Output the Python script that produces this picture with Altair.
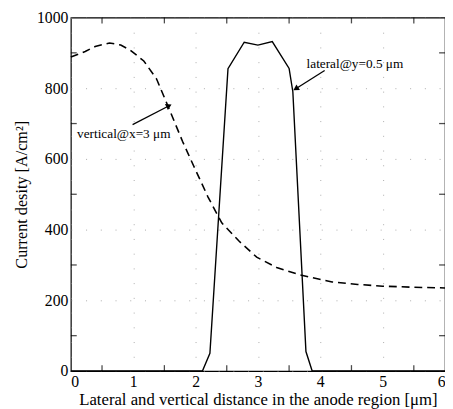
import altair as alt
import pandas as pd

# Dashed curve: vertical@x=3 um
vert_x = [0, 0.23, 0.39, 0.62, 0.8, 0.95, 1.17, 1.375, 1.53, 1.79, 1.97, 2.2, 2.42, 2.7, 2.98, 3.3, 3.67, 4.19, 4.6, 5.0, 5.5, 6.0]
vert_y = [888, 904, 918, 928, 922, 908, 877, 826, 761, 650, 580, 492, 419, 367, 322, 293, 272, 252, 245, 240, 237, 235]

# Solid curve: lateral@y=0.5 um
lat_x = [0, 2.11, 2.23, 2.52, 2.78, 3.0, 3.23, 3.5, 3.56, 3.77, 3.87, 6.0]
lat_y = [0, 0, 50, 855, 930, 922, 932, 856, 790, 55, 0, 0]

x_ticks = [0, 1, 2, 3, 4, 5, 6]
y_ticks = [0, 200, 400, 600, 800, 1000]
x_minor = [0.5, 1.5, 2.5, 3.5, 4.5, 5.5]
y_minor = [100, 300, 500, 700, 900]

labels = ["vertical@x=3 \u03bcm", "lateral@y=0.5 \u03bcm"]
label_x = [0.1, 3.78]
label_y = [669, 867]
arrow_x0 = [0.99, 4.07]
arrow_y0 = [697, 850]
arrow_x1 = [1.56, 3.62]
arrow_y1 = [749, 800]
arrow_angle = [64, 238]

FONT = "Liberation Serif"

xs = alt.Scale(domain=[0, 6], nice=False, zero=False)
ys = alt.Scale(domain=[0, 1000], nice=False)

common = dict(ticks=False, domain=False, labelFont=FONT, titleFont=FONT,
              labelFontSize=16, labelColor="black", titleColor="black",
              titleFontWeight="normal", grid=True, gridColor="#888888", gridDash=[1, 14],
              gridWidth=1, gridOpacity=0.7, format="d")
x_axis = alt.Axis(values=x_ticks, title="Lateral and vertical distance in the anode region [\u03bcm]",
                  labelPadding=3, titlePadding=2, titleFontSize=17, **common)
y_axis = alt.Axis(values=y_ticks, title="Current desity [A/cm\u00b2]",
                  labelPadding=3, titlePadding=7, titleFontSize=16.5, **common)

X = alt.X("x:Q", scale=xs, axis=x_axis)
Y = alt.Y("y:Q", scale=ys, axis=y_axis)

vert_df = pd.DataFrame({"x": vert_x, "y": vert_y})
lat_df = pd.DataFrame({"x": lat_x, "y": lat_y})

lat_line = alt.Chart(lat_df).mark_line(color="black", strokeWidth=1.4).encode(x=X, y=Y)
vert_line = alt.Chart(vert_df).mark_line(color="black", strokeWidth=1.6, strokeDash=[8, 5]).encode(x=X, y=Y)

xm_df = pd.DataFrame({"x": x_minor})
ym_df = pd.DataFrame({"y": y_minor})

bot_ticks = alt.Chart(xm_df).mark_tick(orient="vertical", color="black", size=6, thickness=1.3, yOffset=-3).encode(
    x=X, y=alt.value(360))
top_ticks = alt.Chart(xm_df).mark_tick(orient="vertical", color="black", size=6, thickness=1.3, yOffset=3).encode(
    x=X, y=alt.value(0))
left_ticks = alt.Chart(ym_df).mark_tick(orient="horizontal", color="black", size=6, thickness=1.3, xOffset=3).encode(
    y=Y, x=alt.value(0))
right_ticks = alt.Chart(ym_df).mark_tick(orient="horizontal", color="black", size=6, thickness=1.3, xOffset=-3).encode(
    y=Y, x=alt.value(381))

lab_df = pd.DataFrame({"label": labels, "x": label_x, "y": label_y})
texts = alt.Chart(lab_df).mark_text(align="left", baseline="middle", font=FONT, fontSize=13.5, color="black").encode(
    x=X, y=Y, text="label:N")

arrow_rows = []
for i in range(len(labels)):
    arrow_rows.append({"id": i, "o": 0, "x": arrow_x0[i], "y": arrow_y0[i]})
    arrow_rows.append({"id": i, "o": 1, "x": arrow_x1[i], "y": arrow_y1[i]})
arr_df = pd.DataFrame(arrow_rows)
shafts = alt.Chart(arr_df).mark_line(color="black", strokeWidth=1.3).encode(
    x=X, y=Y, detail="id:N", order="o:Q")

heads = []
for i in range(len(labels)):
    hd = pd.DataFrame({"x": [arrow_x1[i]], "y": [arrow_y1[i]]})
    heads.append(alt.Chart(hd).mark_point(shape="triangle", filled=True, color="black", size=45,
                                          opacity=1, angle=arrow_angle[i]).encode(x=X, y=Y))

chart = alt.layer(lat_line, vert_line, bot_ticks, top_ticks, left_ticks, right_ticks,
                  shafts, *heads, texts).properties(
    width=381, height=360,
    autosize=alt.AutoSizeParams(type="none"),
    padding={"left": 64, "top": 6, "right": 0, "bottom": 35},
).configure_view(stroke="black", strokeWidth=1.2)

chart.save("out.html", embed_options={"renderer": "svg", "actions": False})
